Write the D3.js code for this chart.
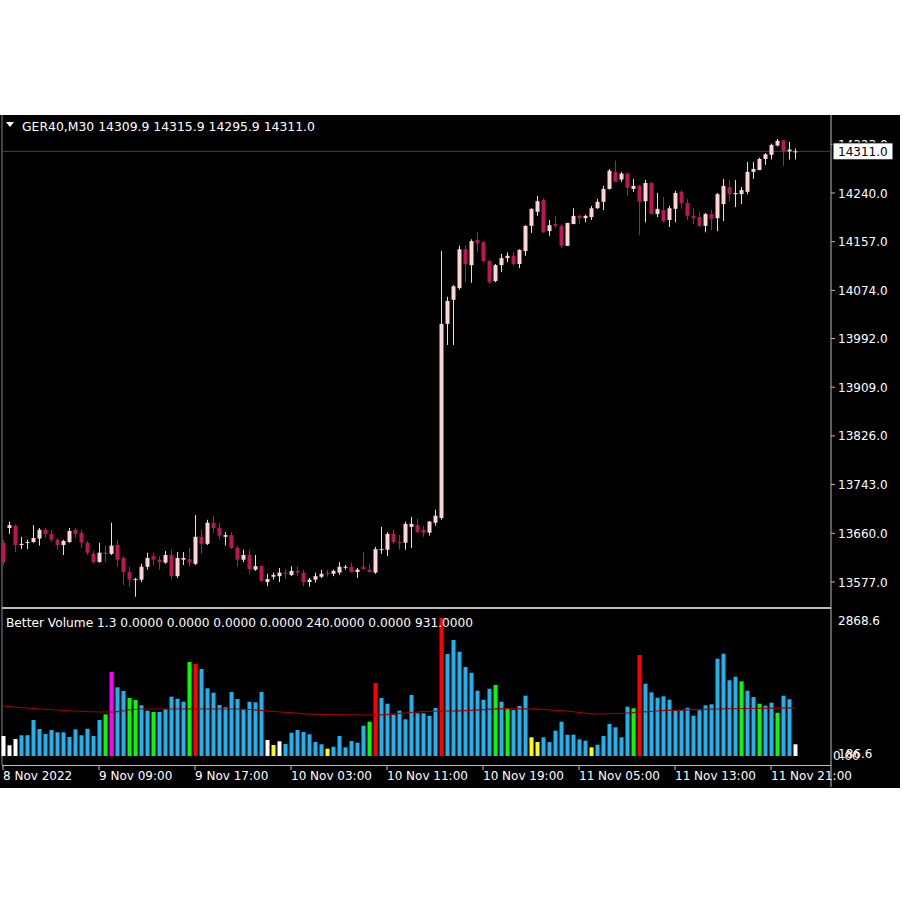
<!DOCTYPE html>
<html>
<head>
<meta charset="utf-8">
<script src="https://cdn.jsdelivr.net/npm/d3@7"></script>
<style>
  body { margin: 0; background: #fff; }
  text { font-family: "DejaVu Sans", sans-serif; }
</style>
</head>
<body>
<div id="chart"></div>
<script>

// ---- data (GER40 M30) ----
var opens = [13644,13669,13673,13640,13644,13645,13651,13666,13659,13649,13640,13645,13666,13661,13644,13625,13611,13627,13625,13640,
  13618,13594,13581,13581,13603,13621,13615,13610,13623,13587,13615,13616,13608,13654,13642,13678,13669,13654,13657,13635,
  13615,13623,13598,13604,13577,13586,13587,13593,13589,13596,13593,13577,13581,13586,13593,13591,13593,13603,13603,13594,
  13603,13598,13593,13632,13632,13659,13645,13644,13671,13674,13666,13661,13678,13686,14017,14058,14078,14144,14117,14160,
  14156,14124,14090,14117,14129,14133,14119,14141,14184,14208,14228,14175,14187,14184,14150,14187,14201,14197,14199,14214,
  14225,14247,14276,14263,14273,14247,14252,14226,14257,14204,14211,14194,14213,14242,14223,14201,14199,14184,14204,14197,
  14221,14250,14238,14238,14242,14276,14279,14298,14305,14321,14330,14311,14310];
var highs = [13649,13680,13675,13654,13649,13674,13669,13669,13666,13652,13649,13669,13669,13666,13647,13630,13644,13639,13678,13649,
  13621,13603,13584,13608,13627,13627,13621,13630,13632,13628,13628,13635,13691,13666,13683,13690,13678,13662,13662,13639,
  13632,13632,13623,13606,13591,13593,13601,13599,13604,13604,13598,13584,13593,13598,13598,13598,13611,13606,13610,13601,
  13628,13608,13637,13671,13662,13666,13657,13680,13688,13685,13673,13681,13700,14141,14063,14083,14150,14151,14161,14173,
  14158,14126,14119,14136,14139,14139,14144,14185,14214,14235,14231,14194,14201,14187,14189,14214,14203,14203,14218,14230,
  14252,14281,14295,14276,14275,14264,14254,14262,14259,14240,14233,14218,14244,14245,14230,14214,14208,14206,14211,14240,
  14264,14262,14262,14250,14293,14293,14300,14308,14324,14332,14330,14327,14316];
var lows = [13606,13659,13628,13633,13633,13644,13639,13652,13645,13632,13623,13644,13652,13635,13623,13608,13610,13611,13623,13603,
  13572,13569,13552,13577,13598,13606,13598,13608,13581,13584,13606,13603,13606,13625,13640,13661,13649,13639,13633,13603,
  13611,13591,13596,13577,13570,13581,13577,13582,13587,13587,13570,13569,13576,13584,13586,13587,13589,13598,13593,13584,
  13598,13593,13591,13625,13621,13642,13632,13632,13635,13661,13654,13656,13673,13683,13981,13981,14075,14088,14087,14139,
  14122,14085,14088,14105,14122,14116,14112,14133,14172,14201,14172,14167,14180,14146,14150,14187,14187,14190,14194,14213,
  14211,14246,14259,14259,14235,14242,14168,14190,14204,14199,14190,14182,14190,14213,14194,14187,14182,14173,14177,14175,
  14192,14225,14216,14221,14238,14264,14279,14288,14297,14319,14286,14297,14297];
var closes = [13611,13674,13640,13642,13645,13652,13666,13659,13649,13640,13647,13664,13659,13644,13627,13611,13627,13625,13639,13615,
  13594,13581,13582,13603,13618,13615,13611,13623,13587,13618,13618,13610,13654,13642,13678,13669,13656,13657,13635,13615,
  13623,13599,13604,13579,13582,13589,13593,13591,13596,13593,13577,13581,13587,13591,13591,13596,13603,13603,13594,13598,
  13599,13594,13633,13633,13659,13645,13644,13676,13676,13662,13661,13680,13690,14017,14056,14081,14144,14119,14158,14155,
  14124,14088,14117,14129,14133,14119,14143,14184,14213,14226,14173,14185,14184,14150,14189,14201,14197,14201,14214,14225,
  14247,14278,14259,14273,14249,14252,14225,14257,14204,14213,14192,14214,14240,14223,14201,14197,14184,14204,14196,14238,
  14252,14238,14240,14245,14276,14281,14298,14306,14322,14329,14311,14314,14311];

var volumes = [422,226,359,437,439,759,569,464,548,500,500,401,563,437,576,422,759,879,1772,1449,
  1371,1223,1181,1069,955,928,928,985,1251,1208,1145,1982,1940,1835,1428,1335,1076,1027,1350,1202,
  985,1145,1133,1350,337,232,310,253,491,548,506,458,295,247,154,196,422,183,316,281,
  639,723,1540,1223,1103,871,955,774,1287,901,901,844,1012,2911,2151,2447,2200,1877,1757,1377,
  1187,1419,1497,1145,991,970,1054,1272,394,295,394,295,534,723,449,449,352,323,183,238,
  422,675,605,394,1040,1006,2130,1525,1343,1230,1259,1187,955,964,1019,850,964,1069,1090,2052,
  2158,1597,1672,1575,1377,1244,1103,1061,1124,913,1272,1196,247];
// W white, Y yellow, G green, M magenta, R red, B blue
var volumeKinds = "WWWBBBBBBBBBBBBBBGMBBGGBBGBBBBBGRBBBBBBBBBBBWYWBBBBBBBYBBBBBBGRBBBBBBBBBBRBBBBBBBBGBGBBBYYBBBBBBBBYBBBBBBGRBBBBBBBBBBBBBBBBGBBGBBGBBW";

// moving average of volume, read at a few bars
var maBars = [0,18,23,39,44,54,62,69,73,75,84,94,99,104,109,119,132];
var maValues = [1055,928,991,991,949,871,865,928,949,949,998,949,886,907,949,991,1013];

var priceTicks = [14323,14240,14157,14074,13992,13909,13826,13743,13660,13577];
var volTicks = ["2868.6"];
var timeLabels = ["8 Nov 2022","9 Nov 09:00","9 Nov 17:00","10 Nov 03:00","10 Nov 11:00","10 Nov 19:00","11 Nov 05:00","11 Nov 13:00","11 Nov 21:00"];
var timeLabelBars = [0,16,32,48,64,80,96,112,128];

var header = "GER40,M30  14309.9 14315.9 14295.9 14311.0";
var volHeader = "Better Volume 1.3 0.0000 0.0000 0.0000 0.0000 240.0000 0.0000 931.0000";
var lastPrice = 14311.0;

// ---- drawing ----
var W = 903, H = 903;
var colors = {W: "#ffffff", Y: "#ffff00", G: "#00ff00", M: "#ff00ff", R: "#ff0000", B: "#1eb3ec"};
var bull = "#fdd4d4", bear = "#c0135a";

var svg = d3.select("#chart").append("svg")
    .attr("width", W).attr("height", H);

svg.append("rect").attr("x", 0).attr("y", 115).attr("width", 900).attr("height", 673).attr("fill", "#000");

var plotRight = 831;
var x = d3.scaleLinear().domain([0, 132]).range([3, 795]);
var y = d3.scaleLinear().domain([13577, 14240]).range([582, 193]);
var yv = d3.scaleLinear().domain([0, 2868.6]).range([756, 620]);

// frame lines
svg.append("line").attr("x1", 2).attr("x2", 2).attr("y1", 115).attr("y2", 765).attr("stroke", "#888");
svg.append("line").attr("x1", plotRight).attr("x2", plotRight).attr("y1", 115).attr("y2", 787).attr("stroke", "#bbb");
svg.append("line").attr("x1", 2).attr("x2", plotRight).attr("y1", 608).attr("y2", 608).attr("stroke", "#bbb").attr("stroke-width", 2);
svg.append("line").attr("x1", 2).attr("x2", plotRight).attr("y1", 765.5).attr("y2", 765.5).attr("stroke", "#bbb");

// current price line
svg.append("line").attr("x1", 2).attr("x2", plotRight).attr("y1", y(lastPrice)).attr("y2", y(lastPrice)).attr("stroke", "#444");

// price axis
priceTicks.forEach(function(p){
    svg.append("line").attr("x1", plotRight).attr("x2", plotRight + 4)
        .attr("y1", y(p)).attr("y2", y(p)).attr("stroke", "#bbb");
    svg.append("text").attr("x", 838).attr("y", y(p) + 4.5)
        .attr("fill", "#fff").attr("font-size", 12).text(p.toFixed(1));
});
svg.append("rect").attr("x", 833).attr("y", y(lastPrice) - 8.5).attr("width", 60).attr("height", 17)
    .attr("fill", "#fff").attr("stroke", "#000");
svg.append("text").attr("x", 838).attr("y", y(lastPrice) + 4.5).attr("fill", "#000")
    .attr("font-size", 12).text(lastPrice.toFixed(1));

// candles
var candles = svg.append("g");
closes.forEach(function(c, i){
    var o = opens[i], col = c >= o ? bull : bear;
    candles.append("line").attr("x1", x(i) + 0.5).attr("x2", x(i) + 0.5)
        .attr("y1", y(highs[i])).attr("y2", y(lows[i])).attr("stroke", col);
    candles.append("rect").attr("x", x(i) - 1.5).attr("width", 4)
        .attr("y", y(Math.max(o, c))).attr("height", Math.max(1, Math.abs(y(o) - y(c))))
        .attr("fill", col);
});

// header
svg.append("path").attr("d", "M6,122 L14,122 L10,127 Z").attr("fill", "#fff");
svg.append("text").attr("x", 22).attr("y", 131).attr("fill", "#fff").attr("font-size", 12.4).text(header);

// volume bars
svg.selectAll(".vol").data(volumes).enter().append("rect")
    .attr("class", "vol")
    .attr("x", function(d, i){ return x(i) - 1.5; })
    .attr("width", 4)
    .attr("y", function(d){ return yv(d); })
    .attr("height", function(d){ return yv(0) - yv(d); })
    .attr("fill", function(d, i){ return colors[volumeKinds[i]]; });

var maLine = d3.line().curve(d3.curveMonotoneX)
    .x(function(d){ return x(d[0]); }).y(function(d){ return yv(d[1]); });
svg.append("path").datum(d3.zip(maBars, maValues))
    .attr("d", maLine).attr("fill", "none").attr("stroke", "#a00000").attr("stroke-width", 1.2);

svg.append("text").attr("x", 6).attr("y", 627).attr("fill", "#fff").attr("font-size", 12.2).text(volHeader);

svg.append("text").attr("x", 838).attr("y", 625).attr("fill", "#fff").attr("font-size", 12).text(volTicks[0]);
svg.append("text").attr("x", 833).attr("y", 760).attr("fill", "#fff").attr("font-size", 12).text("0.00");
svg.append("text").attr("x", 838).attr("y", 758).attr("fill", "#fff").attr("font-size", 12).text("186.6");

// time axis
timeLabels.forEach(function(t, k){
    var xx = x(timeLabelBars[k]);
    svg.append("line").attr("x1", xx).attr("x2", xx).attr("y1", 765).attr("y2", 770).attr("stroke", "#bbb");
    svg.append("text").attr("x", xx).attr("y", 780).attr("fill", "#fff").attr("font-size", 12).text(t);
});
</script>
</body>
</html>
